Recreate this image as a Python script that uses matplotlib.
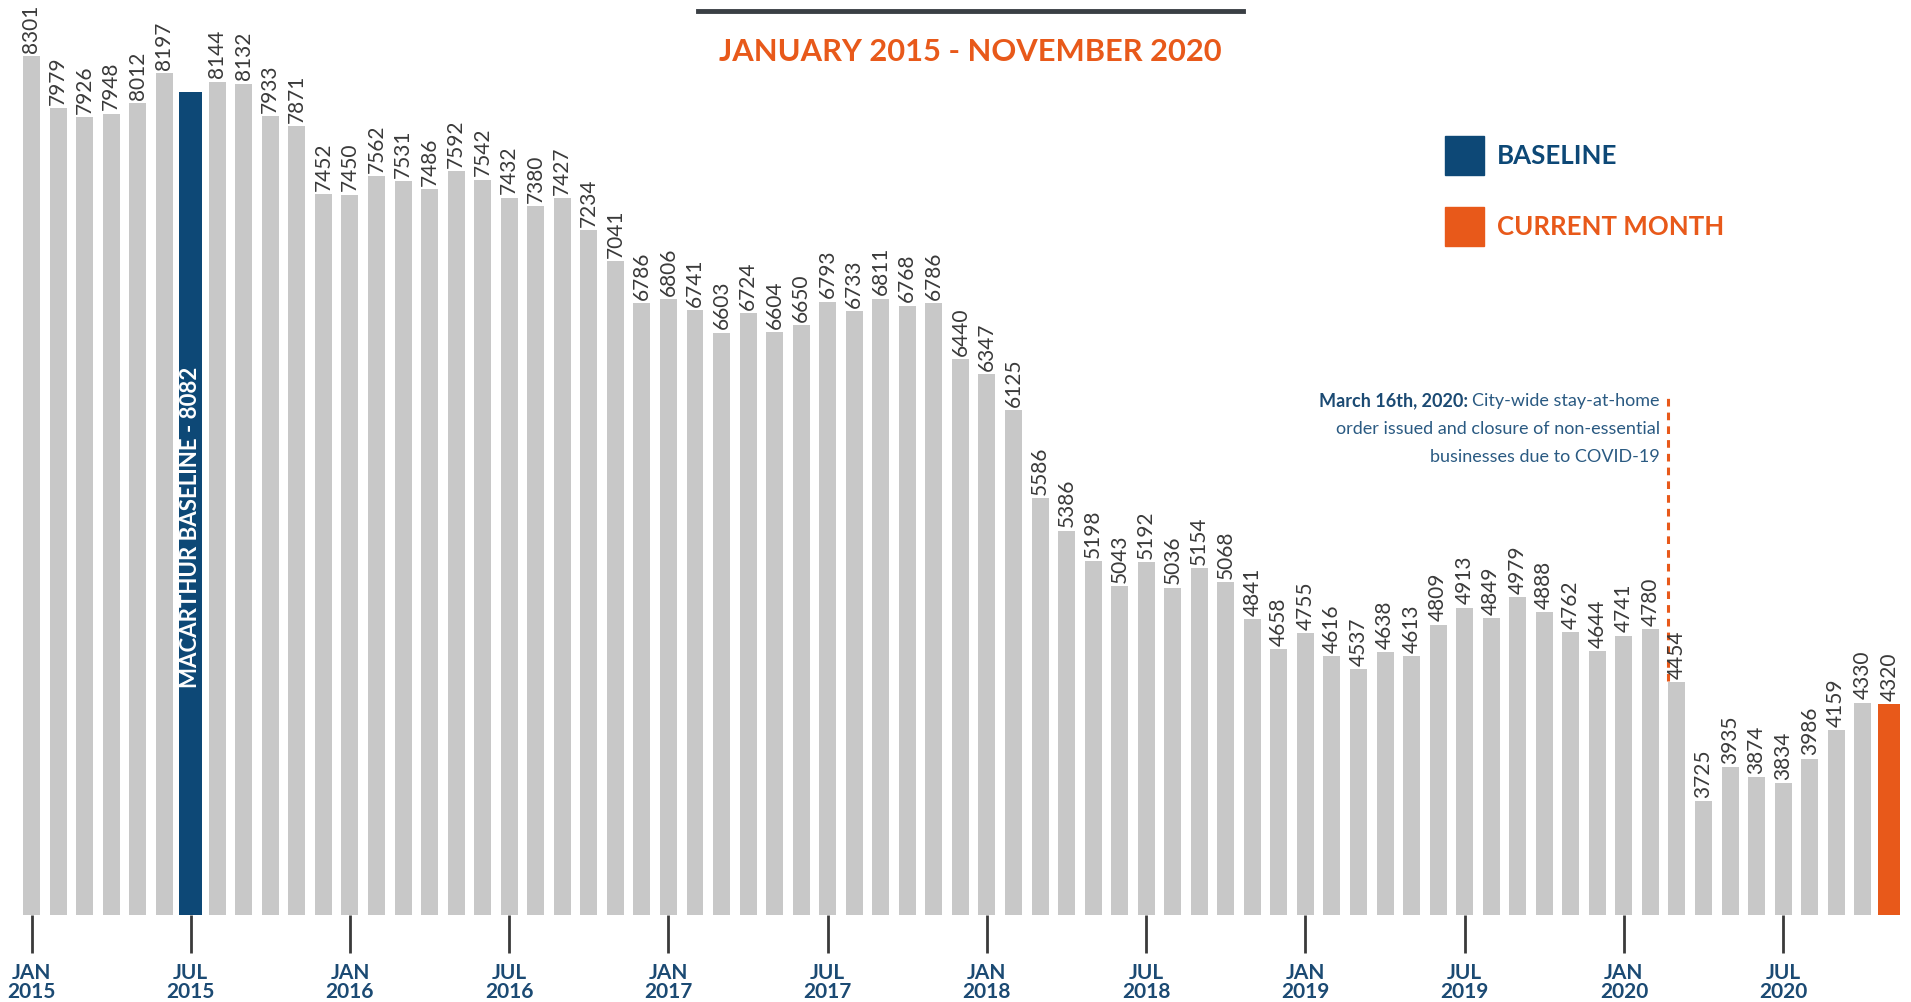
import matplotlib

matplotlib.use("Agg")
import matplotlib.pyplot as plt
import numpy as np

plt.rcParams["font.family"] = ["Lato", "DejaVu Sans"]

# monthly counts, Jan 2015 .. Nov 2020
counts = [
    8301, 7979, 7926, 7948, 8012, 8197, 8082, 8144, 8132, 7933, 7871, 7452,
    7450, 7562, 7531, 7486, 7592, 7542, 7432, 7380, 7427, 7234, 7041, 6786,
    6806, 6741, 6603, 6724, 6604, 6650, 6793, 6733, 6811, 6768, 6786, 6440,
    6347, 6125, 5586, 5386, 5198, 5043, 5192, 5036, 5154, 5068, 4841, 4658,
    4755, 4616, 4537, 4638, 4613, 4809, 4913, 4849, 4979, 4888, 4762, 4644,
    4741, 4780, 4454, 3725, 3935, 3874, 3834, 3986, 4159, 4330, 4320,
]
baseline_idx = 6
baseline_value = 8082
current_idx = len(counts) - 1
covid_idx = 62  # March 2020

tick_idx = list(range(0, len(counts), 6))
tick_labels = [f"{'JAN' if i % 12 == 0 else 'JUL'}\n{2015 + i // 12}" for i in tick_idx]

GRAY = "#c8c8c8"
BLUE = "#0d4876"
ORANGE = "#e8591a"
TEXT_GRAY = "#3a3a3a"
LABEL_BLUE = "#1b4a73"

W, H = 1911, 1003
fig = plt.figure(figsize=(W / 100, H / 100), dpi=100)
ax = fig.add_axes([0, (H - 916) / H, 1, 916 / H])

x = np.arange(len(counts))
colors = [GRAY] * len(counts)
widths = [0.64] * len(counts)
colors[baseline_idx] = BLUE
widths[baseline_idx] = 0.87
colors[current_idx] = ORANGE
widths[current_idx] = 0.83
ax.bar(x, counts, width=widths, color=colors, bottom=0)

ax.set_xlim(-31.5 / 26.54, (W - 31.5) / 26.54)
ax.set_ylim(3025, 3025 + 916 / 0.1628)

for i, v in enumerate(counts):
    if i == baseline_idx:
        continue
    ax.annotate(str(v), (i, v), xytext=(0, 3), textcoords="offset points",
                rotation=90, ha="center", va="bottom", fontsize=15, color=TEXT_GRAY)

ax.text(baseline_idx, 5414, f"MACARTHUR BASELINE - {baseline_value}", rotation=90,
        ha="center", va="center", color="white", fontsize=16, fontweight="bold")

for s in ax.spines.values():
    s.set_visible(False)
ax.set_yticks([])
ax.set_xticks(tick_idx)
ax.set_xticklabels(tick_labels, fontsize=15, fontweight="bold", color=LABEL_BLUE,
                   linespacing=0.95)
ax.tick_params(axis="x", length=27, width=2, color="#3a3a3a", pad=7, direction="out")

# covid marker
ax.plot([covid_idx - 0.32] * 2, [counts[covid_idx] + 10, 6230], color=ORANGE, lw=2.2,
        ls=(0, (2.5, 2)))

# title and rule
fig.add_artist(plt.Line2D([698 / W, 1243 / W], [1 - 12 / H] * 2, color="#3a3f44", lw=3.5))
fig.text(970 / W, 1 - 52 / H, "JANUARY 2015 - NOVEMBER 2020", ha="center", va="center",
         fontsize=22.2, fontweight="bold", color=ORANGE)

# legend
for ypx, col, lab in [(156, BLUE, "BASELINE"), (227, ORANGE, "CURRENT MONTH")]:
    fig.add_artist(plt.Rectangle((1445 / W, 1 - (ypx + 20) / H), 39 / W, 39 / H,
                                 color=col, transform=fig.transFigure))
    fig.text(1497 / W, 1 - ypx / H, lab, ha="left", va="center", fontsize=18.6,
             fontweight="bold", color=col)

# annotation text
xr = 1660 / W
ann_lines = [
    (401, "City-wide stay-at-home"),
    (429, "order issued and closure of non-essential"),
    (457, "businesses due to COVID-19"),
]
ann_texts = []
for ypx, s in ann_lines:
    t = fig.text(xr, 1 - ypx / H, s, ha="right", va="center", fontsize=13, color="#2a5a82")
    ann_texts.append(t)
fig.canvas.draw()
bb = ann_texts[0].get_window_extent()
fig.text(bb.x0 / W - 4 / W, 1 - 401 / H, "March 16th, 2020:", ha="right", va="center",
         fontsize=13, fontweight="bold", color=LABEL_BLUE)

fig.savefig("out.png", dpi=100, facecolor="white")
